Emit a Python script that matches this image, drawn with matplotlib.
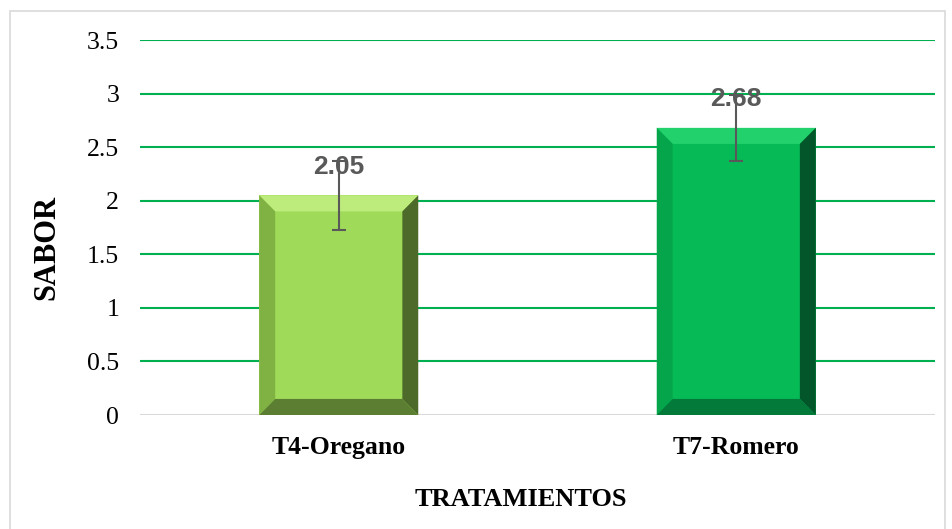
import matplotlib
matplotlib.use("Agg")
import matplotlib.pyplot as plt
from matplotlib.patches import Polygon, Rectangle

# datos del grafico
tratamientos = ["T4-Oregano", "T7-Romero"]
sabor = [2.05, 2.68]
error = [0.32, 0.31]
marcas_y = [0, 0.5, 1, 1.5, 2, 2.5, 3, 3.5]
etiquetas_y = ["0", "0.5", "1", "1.5", "2", "2.5", "3", "3.5"]

# colores de cada barra: cara, arriba, izquierda, derecha, abajo
colores = [
    ("#9FDA58", "#BDEB7C", "#7FB143", "#4D6A2A", "#5C7E32"),
    ("#06BA56", "#22D06C", "#05A64B", "#02562A", "#03793A"),
]

fig = plt.figure(figsize=(9.52, 5.29), dpi=100)
ax = fig.add_axes([140 / 952, 114 / 529, 795 / 952, 375 / 529])

x = range(len(tratamientos))
ancho = 0.4
bx, by = 0.04, 0.15  # grosor del bisel

for i, (v, c) in enumerate(zip(sabor, colores)):
    x0, x1 = i - ancho / 2, i + ancho / 2
    ax.add_patch(Rectangle((x0, 0), ancho, v, facecolor=c[0], edgecolor="none", zorder=2))
    # bisel
    ax.add_patch(Polygon([(x0, v), (x1, v), (x1 - bx, v - by), (x0 + bx, v - by)],
                         facecolor=c[1], edgecolor="none", zorder=3))
    ax.add_patch(Polygon([(x0, 0), (x0, v), (x0 + bx, v - by), (x0 + bx, by)],
                         facecolor=c[2], edgecolor="none", zorder=3))
    ax.add_patch(Polygon([(x1, 0), (x1, v), (x1 - bx, v - by), (x1 - bx, by)],
                         facecolor=c[3], edgecolor="none", zorder=3))
    ax.add_patch(Polygon([(x0, 0), (x1, 0), (x1 - bx, by), (x0 + bx, by)],
                         facecolor=c[4], edgecolor="none", zorder=3))

ax.errorbar(list(x), sabor, yerr=error, fmt="none", ecolor="#595959",
            elinewidth=1.5, capsize=5, capthick=1.5, zorder=4)

for i, v in enumerate(sabor):
    ax.annotate(f"{v:.2f}", (i, v), xytext=(0, 12), textcoords="offset points",
                ha="center", va="bottom", fontsize=19, fontweight="bold",
                color="#595959", family="Liberation Sans", zorder=5)

ax.set_xlim(-0.5, 1.5)
ax.set_ylim(0, 3.5)
ax.set_yticks(marcas_y)
ax.set_yticklabels(etiquetas_y)
ax.set_xticks(list(x))
ax.set_xticklabels(tratamientos, fontweight="bold")
for t in ax.get_yticklabels() + ax.get_xticklabels():
    t.set_family("Liberation Serif")
    t.set_fontsize(18.5)
ax.tick_params(axis="y", length=0, pad=15)
ax.tick_params(axis="x", length=0, pad=15)

for g in marcas_y[1:]:
    ax.axhline(g, color="#00B050", linewidth=1.5, zorder=1)
ax.axhline(0, color="#D9D9D9", linewidth=1.5, zorder=1)
for s in ax.spines.values():
    s.set_visible(False)

ax.set_xlabel("TRATAMIENTOS", family="Liberation Serif", fontsize=19,
              fontweight="bold", va="center")
ax.xaxis.set_label_coords((521 - 140) / 795, (29 - 114) / 375)
ax.set_ylabel("SABOR", family="Liberation Serif", fontsize=22,
              fontweight="bold", va="center")
ax.yaxis.set_label_coords((47 - 140) / 795, 0.448)

# marco del grafico
fig.patches.append(Rectangle((10 / 952, -0.01), 935 / 952, 0.99, transform=fig.transFigure,
                             fill=False, edgecolor="#D9D9D9", linewidth=1.2))

fig.savefig("out.png", dpi=100)
